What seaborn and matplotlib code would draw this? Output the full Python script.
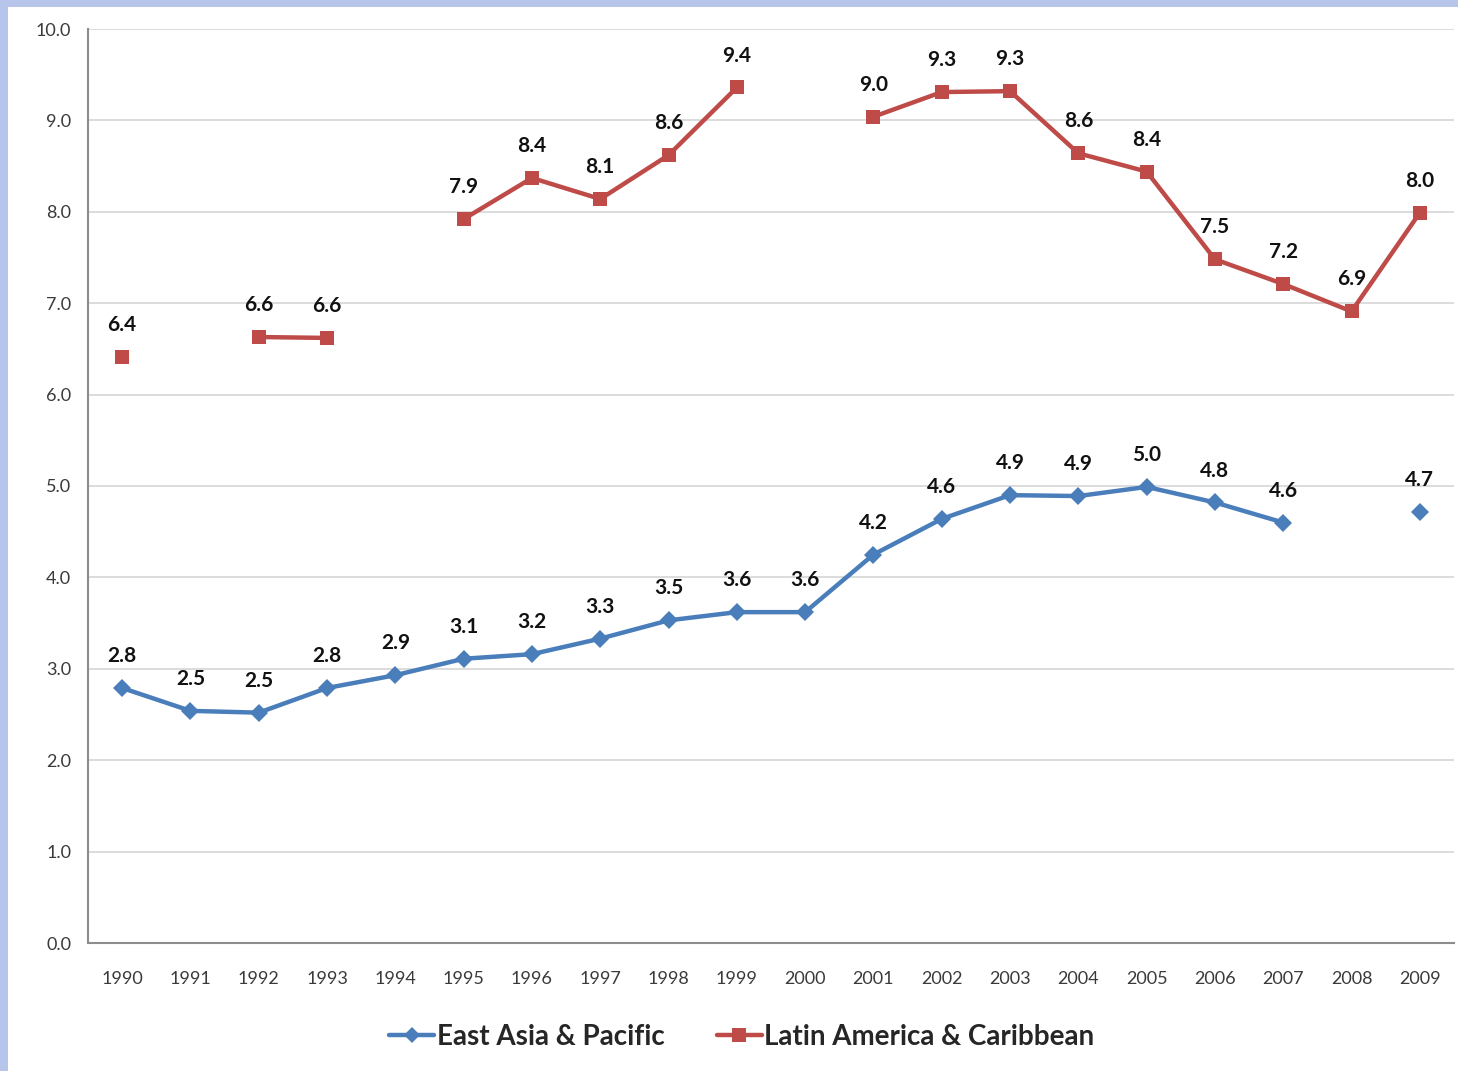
import numpy as np
import pandas as pd
import matplotlib
matplotlib.use("Agg")
import matplotlib.pyplot as plt
from matplotlib.lines import Line2D
from matplotlib.patches import Rectangle
import seaborn as sns

years = list(range(1990, 2010))
east_asia = [2.79, 2.54, 2.52, 2.79, 2.93, 3.11, 3.16, 3.33, 3.53, 3.62,
             3.62, 4.25, 4.64, 4.90, 4.89, 4.99, 4.82, 4.60, np.nan, 4.72]
latin_america = [6.41, np.nan, 6.63, 6.62, np.nan, 7.92, 8.37, 8.14, 8.62, 9.36,
                 np.nan, 9.04, 9.31, 9.32, 8.64, 8.44, 7.48, 7.21, 6.91, 7.99]
series_names = ["East Asia & Pacific", "Latin America & Caribbean"]
colors = {"East Asia & Pacific": "#4A7EBB", "Latin America & Caribbean": "#BE4B48"}
markers = {"East Asia & Pacific": "D", "Latin America & Caribbean": "s"}


def to_long(name, values):
    df = pd.DataFrame({"year": years, "value": values, "series": name})
    # a new segment starts after every missing year so gaps stay open
    df["segment"] = df["value"].isna().cumsum()
    df["segment"] = name + "_" + df["segment"].astype(str)
    return df


data = pd.concat([to_long(series_names[0], east_asia),
                  to_long(series_names[1], latin_america)], ignore_index=True)

sns.set_theme(style="white")
plt.rcParams["font.family"] = ["Lato", "DejaVu Sans"]

W, H = 1458, 1071
fig = plt.figure(figsize=(W / 100, H / 100), dpi=100)
fig.patch.set_facecolor("#B7C5EA")
fig.add_artist(Rectangle((8 / W, 0), 1, (H - 7) / H, transform=fig.transFigure,
                         facecolor="white", edgecolor="none", zorder=0))

ax = fig.add_axes([88 / W, 1 - 943 / H, (1454 - 88) / W, (943 - 29) / H])
ax.set_facecolor("none")

sns.lineplot(data=data.dropna(), x="year", y="value", hue="series", style="series",
             units="segment", estimator=None, palette=colors, markers=markers,
             dashes=False, linewidth=3.2, markersize=10, markeredgewidth=0,
             legend=False, ax=ax, zorder=3)
for line in ax.lines:
    if line.get_marker() == "D":
        line.set_markersize(9)

# value labels above every point
for name, values in zip(series_names, [east_asia, latin_america]):
    for yr, v in zip(years, values):
        if np.isnan(v):
            continue
        ax.annotate(f"{v:.1f}", (yr, v), xytext=(0, 23), textcoords="offset points",
                    ha="center", va="center", fontsize=15, fontweight="bold",
                    color="#111111", zorder=4)

ax.set_xlim(1989.5, 2009.5)
ax.set_ylim(0, 10)
ax.set_yticks(np.arange(0, 10.01, 1.0))
ax.set_yticklabels([f"{t:.1f}" for t in np.arange(0, 10.01, 1.0)])
ax.set_xticks(years)
ax.set_xticklabels([str(y) for y in years])
ax.set_xticks(np.arange(1989.5, 2009.6, 1.0), minor=True)
ax.tick_params(axis="x", which="major", length=0, pad=20, labelsize=13, labelcolor="#3A3A3A")
ax.tick_params(axis="x", which="minor", length=7, width=1.5, color="#8C8C8C", direction="out")
ax.tick_params(axis="y", which="major", length=7, width=1.5, color="#8C8C8C",
               direction="out", pad=5, labelsize=13, labelcolor="#3A3A3A")
ax.grid(axis="y", color="#D9D9D9", linewidth=1.3, zorder=0)
ax.set_axisbelow(True)
for side in ["top", "right"]:
    ax.spines[side].set_visible(False)
for side in ["left", "bottom"]:
    ax.spines[side].set_color("#8C8C8C")
    ax.spines[side].set_linewidth(1.5)
ax.set_xlabel("")
ax.set_ylabel("")

handles = [Line2D([], [], color=colors[n], marker=markers[n], linewidth=3.2,
                  markersize=10 if markers[n] == "s" else 8, markeredgewidth=0)
           for n in series_names]
fig.legend(handles, series_names, loc="center", bbox_to_anchor=(742 / W, 1 - 1037 / H),
           ncol=2, frameon=False, prop={"size": 20, "weight": "bold"},
           handlelength=1.6, handletextpad=0.1, columnspacing=1.9)

fig.savefig("out.png", dpi=100)
